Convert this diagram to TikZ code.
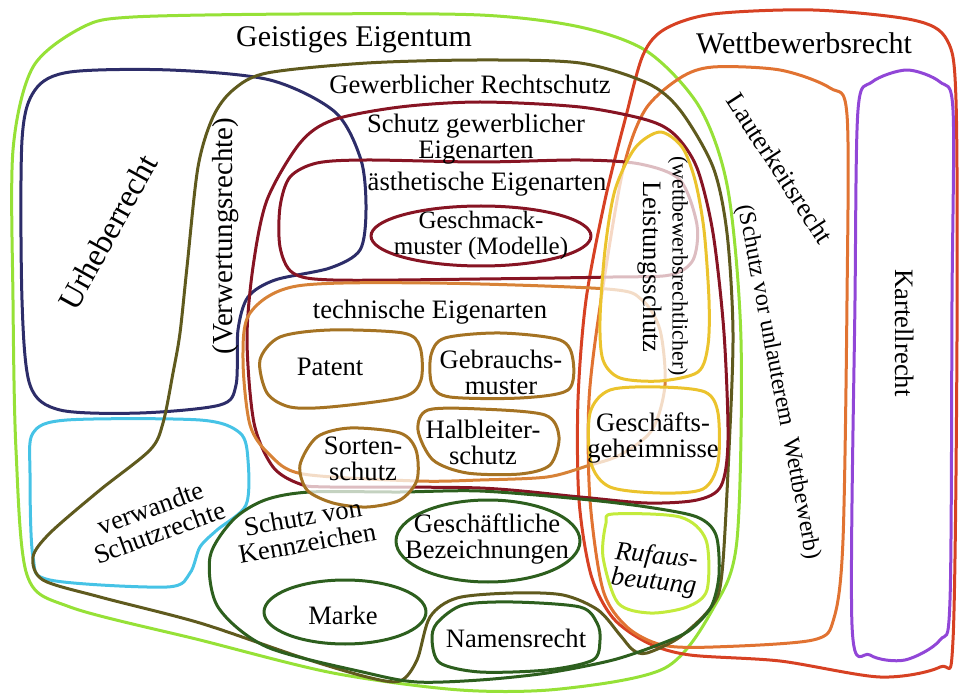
\documentclass[tikz,border=0pt]{standalone}
\usepackage{fontspec}
\setmainfont{Liberation Serif}
\usetikzlibrary{calc, positioning, backgrounds}
\definecolor{geistgreen}{RGB}{150,225,55}
\definecolor{wettred}{RGB}{215,65,35}
\definecolor{lauterorange}{RGB}{225,115,50}
\definecolor{kartellpurple}{RGB}{145,70,215}
\definecolor{urhebernavy}{RGB}{45,45,105}
\definecolor{verwcyan}{RGB}{70,195,230}
\definecolor{gewolive}{RGB}{95,90,30}
\definecolor{eigenmaroon}{RGB}{135,20,35}
\definecolor{technorange}{RGB}{215,130,55}
\definecolor{technbrown}{RGB}{165,115,35}
\definecolor{leistyellow}{RGB}{235,195,45}
\definecolor{rufgreen}{RGB}{195,235,60}
\definecolor{kennzgreen}{RGB}{45,95,30}

\begin{document}
\begin{tikzpicture}[x=0.5pt, y=-0.5pt, line join=round,
  outline/.style={line width=1.5pt},
  veil/.style={line width=1.5pt, fill=white, fill opacity=.72},
  lbl/.style={font=\fontsize{13.3}{13}\selectfont, align=center, inner sep=0pt},
  bigl/.style={font=\fontsize{15}{16}\selectfont, inner sep=0pt}]
\useasboundingbox (0,0) rectangle (959,695);

\draw[outline, geistgreen] plot [smooth cycle] coordinates {(13,150) (33,67) (83,27) (133,17) (300,14) (480,15) (580,27) (648,52) (700,108) (728,190) (741,340) (737,540) (714,607) (665,668) (560,689) (460,690) (333,673) (200,640) (70,607) (27,575) (16,450) (13,300)};
\draw[outline, wettred] plot [smooth cycle] coordinates {(713,14) (813,10) (913,20) (947,40) (956,100) (957,340) (953,640) (940,667) (880,677) (780,661) (690,655) (648,643) (613,618) (591,575) (579,500) (578,400) (586,300) (605,200) (625,120) (643,55) (665,29)};
\draw[outline, lauterorange] plot [smooth cycle] coordinates {(713,67) (780,70) (830,88) (847,115) (847,300) (843,540) (834,618) (813,640) (713,647) (662,645) (627,627) (603,590) (590,500) (589,400) (601,300) (623,170) (645,110) (680,78)};
\draw[outline, kartellpurple] plot [smooth cycle] coordinates {(907,70) (940,82) (953,110) (952,300) (950,600) (940,640) (905,660) (870,655) (852,625) (855,300) (858,110) (872,82)};

\draw[outline, urhebernavy] plot [smooth cycle] coordinates {(22,140) (35,90) (70,72) (170,70) (270,80) (335,112) (361,160) (366,210) (360,250) (330,268) (275,280) (248,297) (238,330) (236,385) (220,405) (140,413) (60,410) (30,385) (22,300)};
\draw[outline, verwcyan] plot [smooth cycle] coordinates {(33,433) (67,420) (200,420) (240,433) (248,460) (246,505) (217,530) (200,547) (190,573) (167,587) (50,580) (33,557) (30,473)};

\draw[outline, gewolive] plot [smooth cycle] coordinates {(480,60) (580,63) (647,83) (680,110) (713,167) (727,233) (733,333) (729,450) (722,573) (712,606) (680,637) (647,653) (633,650) (620,635) (598,610) (563,595) (513,593) (457,598) (430,617) (417,660) (400,681) (367,677) (300,657) (200,623) (100,597) (43,580) (33,557) (50,533) (100,490) (150,450) (163,423) (173,373) (180,333) (187,267) (198,167) (213,117) (233,90) (267,73) (367,63)};

\draw[outline, eigenmaroon] plot [smooth cycle] coordinates {(480,102) (580,107) (647,120) (675,135) (697,168) (713,233) (724,333) (728,440) (721,486) (697,500) (647,503) (580,497) (480,488) (330,487) (300,484) (273,467) (254,423) (247,340) (253,267) (267,200) (300,143) (333,120) (400,107)};
\draw[outline, eigenmaroon] plot [smooth cycle] coordinates {(480,162) (580,160) (640,164) (680,180) (697,225) (693,260) (670,275) (613,277) (480,279) (333,280) (293,273) (280,247) (280,207) (290,177) (317,163) (367,160)};
\draw[outline, eigenmaroon] (481,236) ellipse [x radius=110, y radius=30];

\draw[outline, technorange] plot [smooth cycle] coordinates {(297,286) (430,283) (607,289) (642,300) (660,330) (665,385) (652,430) (620,455) (587,466) (547,477) (480,480) (417,481) (303,474) (270,455) (250,425) (243,360) (250,313)};
\draw[outline, technbrown] plot [smooth cycle] coordinates {(280,337) (330,330) (403,333) (420,347) (421,380) (403,397) (330,407) (290,407) (267,393) (260,360)};
\draw[outline, technbrown] plot [smooth cycle] coordinates {(445,338) (500,333) (560,340) (573,360) (568,390) (520,398) (450,397) (432,385) (431,355)};
\draw[outline, technbrown] plot [smooth cycle] coordinates {(428,410) (480,409) (545,415) (559,437) (550,465) (520,474) (467,473) (433,460) (418,430)};

\draw[outline, kennzgreen] plot [smooth cycle] coordinates {(310,492) (400,492) (480,491) (580,499) (647,507) (697,517) (716,535) (719,575) (711,607) (690,630) (663,643) (613,660) (547,673) (480,680) (417,682) (367,673) (267,647) (218,607) (210,557) (233,520) (265,500)};
\draw[outline, kennzgreen] (488,541) ellipse [x radius=92, y radius=41];
\draw[outline, kennzgreen] (345,612) ellipse [x radius=81, y radius=32];
\draw[outline, kennzgreen] plot [smooth cycle] coordinates {(463,605) (513,602) (580,607) (597,623) (600,640) (593,660) (547,670) (480,672) (440,663) (432,640) (437,623)};

\filldraw[veil, draw=technbrown] plot [smooth cycle] coordinates {(317,437) (350,428) (400,433) (416,450) (417,480) (400,500) (367,507) (333,503) (307,490) (300,465)};
\filldraw[veil, draw=leistyellow] plot [smooth cycle] coordinates {(660,132) (682,147) (695,180) (704,230) (709,300) (708,345) (698,372) (660,381) (620,378) (603,360) (600,320) (605,250) (615,190) (635,148)};
\filldraw[veil, draw=leistyellow] plot [smooth cycle] coordinates {(610,390) (660,387) (705,392) (718,413) (718,463) (703,489) (660,493) (610,487) (591,463) (590,413)};
\draw[outline, rufgreen] plot [smooth cycle] coordinates {(613,514) (680,517) (706,540) (707,590) (687,607) (650,613) (618,603) (603,557) (606,523)};

\node[bigl] (geistig) at (354,40) {Geistiges Eigentum};
\node[bigl] (wettbewerb) at (804,43) {Wettbewerbsrecht};
\node[lbl] (gewerblich) at (470,84) {Gewerblicher Rechtschutz};
\node[lbl] (eigenarten) at (476,139) {Schutz gewerblicher\\Eigenarten};
\node[lbl] (aesthetisch) at (487,184) {ästhetische Eigenarten};
\node[lbl, font=\fontsize{12.5}{13}\selectfont] (geschmack) at (481,235) {Geschmack-\\muster (Modelle)};
\node[lbl] (technisch) at (430,312) {technische Eigenarten};
\node[lbl] (patent) at (330,367) {Patent};
\node[lbl] (gebrauch) at (501,372) {Gebrauchs-\\muster};
\node[lbl] (halbleiter) at (483,442) {Halbleiter-\\schutz};
\node[lbl] (sorten) at (363,459) {Sorten-\\schutz};
\node[lbl, rotate=10] (kennzeichen) at (305,530) {Schutz von\\Kennzeichen};
\node[lbl] (bezeichnung) at (487,539) {Geschäftliche\\Bezeichnungen};
\node[lbl] (marke) at (343,615) {Marke};
\node[lbl] (namen) at (516,638) {Namensrecht};
\node[lbl, rotate=20] (verwandt) at (155,520) {verwandte\\Schutzrechte};
\node[lbl, font=\fontsize{16.2}{17}\selectfont, rotate=61] (urheber) at (108,232) {Urheberrecht};
\node[lbl, font=\fontsize{14.5}{15}\selectfont, rotate=90] (verwertung) at (226,236) {(Verwertungsrechte)};
\node[lbl, rotate=-90] (leistung) at (650,267) {Leistungsschutz};
\node[lbl, font=\fontsize{11}{12}\selectfont, rotate=-90] (wettbewerblich) at (678,266) {(wettbewerbsrechtlicher)};
\node[lbl] (geheimnis) at (653,438) {Geschäfts-\\geheimnisse};
\node[lbl, font=\fontsize{13.3}{13}\selectfont\itshape, rotate=-6] (rufaus) at (655,570) {Rufaus-\\beutung};
\node[lbl, rotate=-57] (lauter) at (780,168) {Lauterkeitsrecht};
\node[lbl, font=\fontsize{12}{13}\selectfont, rotate=-79] (unlauter) at (778,382) {(Schutz vor unlauterem\enspace Wettbewerb)};
\node[lbl, rotate=-90] (kartell) at (905,333) {Kartellrecht};
\end{tikzpicture}
\end{document}
